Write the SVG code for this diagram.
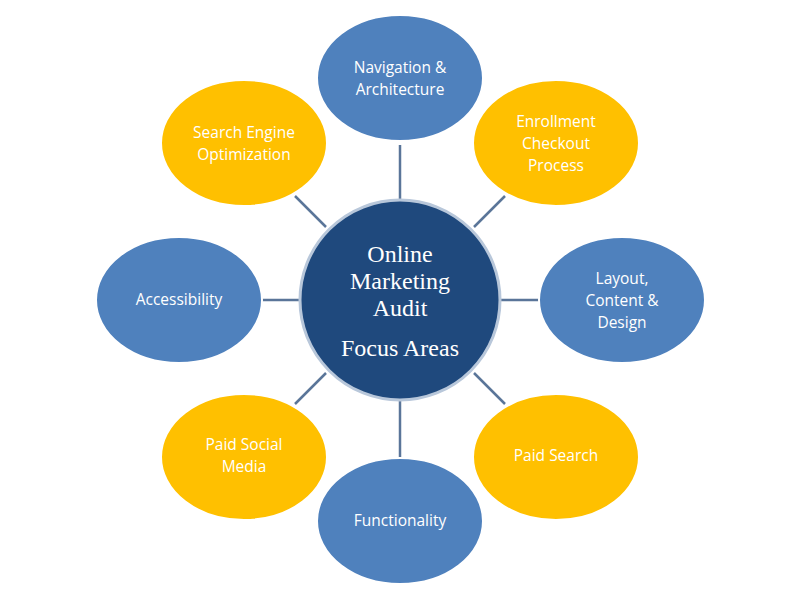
<svg xmlns="http://www.w3.org/2000/svg" width="800" height="600" viewBox="0 0 800 600">
<style>
.b{fill:#4F81BD;stroke:#FFFFFF;stroke-width:2}
.y{fill:#FFC000;stroke:#FFFFFF;stroke-width:2}
.t{font-family:"Open Sans","Liberation Sans",sans-serif;font-size:15.5px;fill:#FFFFFF;text-anchor:middle}
.c{font-family:"Liberation Serif",serif;font-size:24px;fill:#FFFFFF;text-anchor:middle}
.l{stroke:#5A7599;stroke-width:2.5}
</style>
<rect width="800" height="600" fill="#FFFFFF"/>
<g id="connectors">
<line class="l" x1="400" y1="145" x2="400" y2="200"/>
<line class="l" x1="505" y1="196" x2="474" y2="227"/>
<line class="l" x1="500" y1="300" x2="540" y2="300"/>
<line class="l" x1="474" y1="373" x2="505" y2="404"/>
<line class="l" x1="400" y1="400" x2="400" y2="458"/>
<line class="l" x1="326" y1="373" x2="295" y2="404"/>
<line class="l" x1="262" y1="300" x2="300" y2="300"/>
<line class="l" x1="295" y1="196" x2="326" y2="227"/>
</g>
<g id="center"><circle cx="400" cy="300" r="100" fill="#1F497D" stroke="#B8C7DA" stroke-width="3"/>
<text class="c"><tspan x="400" y="262">Online</tspan><tspan x="400" y="289">Marketing</tspan><tspan x="400" y="316">Audit</tspan><tspan x="400" y="356">Focus Areas</tspan></text></g>
<g id="nav"><ellipse class="b" cx="400" cy="78" rx="83" ry="63"/><text class="t"><tspan x="400" y="73">Navigation &amp;</tspan><tspan x="400" y="95">Architecture</tspan></text></g>
<g id="enroll"><ellipse class="y" cx="556" cy="143" rx="83" ry="63"/><text class="t"><tspan x="556" y="127">Enrollment</tspan><tspan x="556" y="149">Checkout</tspan><tspan x="556" y="171">Process</tspan></text></g>
<g id="layout"><ellipse class="b" cx="622" cy="300" rx="83" ry="63"/><text class="t"><tspan x="622" y="284">Layout,</tspan><tspan x="622" y="306">Content &amp;</tspan><tspan x="622" y="328">Design</tspan></text></g>
<g id="paidsearch"><ellipse class="y" cx="556" cy="457" rx="83" ry="63"/><text class="t" x="556" y="461">Paid Search</text></g>
<g id="func"><ellipse class="b" cx="400" cy="521" rx="83" ry="63"/><text class="t" x="400" y="526">Functionality</text></g>
<g id="social"><ellipse class="y" cx="244" cy="457" rx="83" ry="63"/><text class="t"><tspan x="244" y="450">Paid Social</tspan><tspan x="244" y="472">Media</tspan></text></g>
<g id="access"><ellipse class="b" cx="179" cy="300" rx="83" ry="63"/><text class="t" x="179" y="305">Accessibility</text></g>
<g id="seo"><ellipse class="y" cx="244" cy="143" rx="83" ry="63"/><text class="t"><tspan x="244" y="138">Search Engine</tspan><tspan x="244" y="160">Optimization</tspan></text></g>
</svg>
